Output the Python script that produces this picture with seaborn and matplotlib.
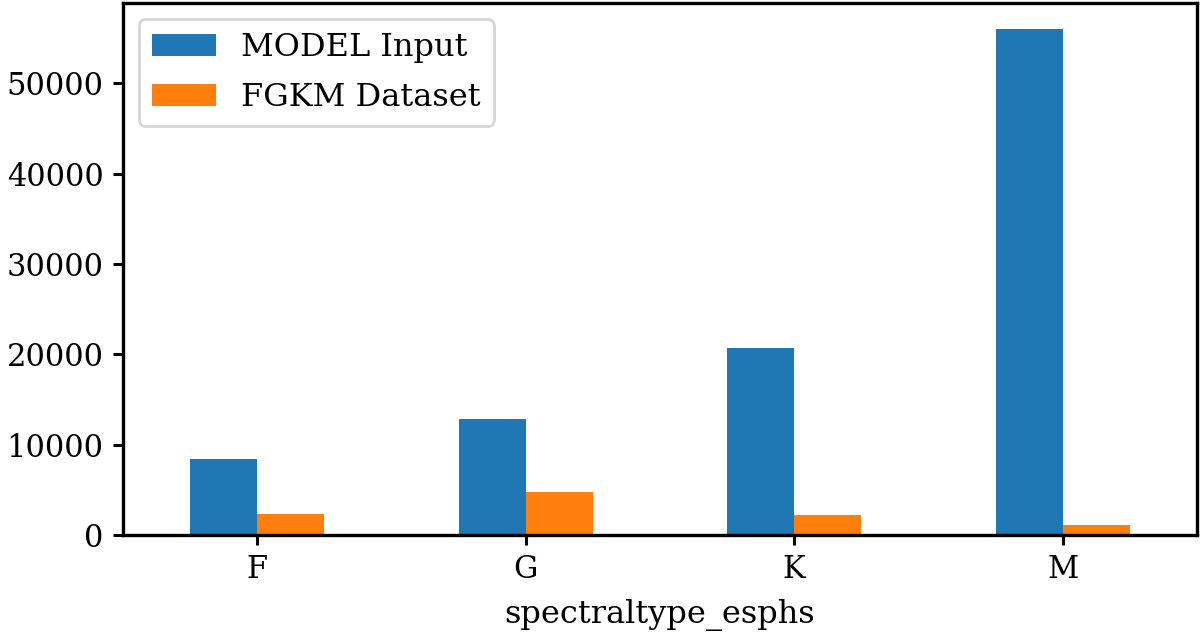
import pandas as pd
import seaborn as sns
import matplotlib.pyplot as plt

# values
spectral_types = ['F', 'G', 'K', 'M']
model_input = [8400, 12850, 20700, 56050]
fgkm_dataset = [2320, 4760, 2220, 1110]
series_names = ['MODEL Input', 'FGKM Dataset']


def main() -> None:
    df = pd.DataFrame({
        'spectraltype_esphs': spectral_types * 2,
        'count': model_input + fgkm_dataset,
        'source': [series_names[0]] * 4 + [series_names[1]] * 4,
    })

    plt.rcParams['font.family'] = ['DejaVu Serif']
    plt.rcParams['font.size'] = 11
    plt.rcParams['axes.linewidth'] = 1.2
    plt.rcParams['xtick.major.width'] = 1.1
    plt.rcParams['ytick.major.width'] = 1.1
    fig, ax = plt.subplots(figsize=(6, 3.19), dpi=200)
    sns.barplot(data=df, x='spectraltype_esphs', y='count', hue='source',
                palette=['#1f77b4', '#ff7f0e'], width=0.5, saturation=1,
                linewidth=0, ax=ax)
    ax.set_xlim(-0.5, 3.5)
    ax.set_ylabel('')
    ax.set_xlabel('spectraltype_esphs', fontsize=11.5, labelpad=5)
    ax.set_yticks(range(0, 50001, 10000))
    handles, labels = ax.get_legend_handles_labels()
    ax.legend(handles, labels, loc='upper left', fontsize=11.5,
              labelspacing=0.6)
    fig.subplots_adjust(left=0.1025, right=0.9975, top=0.995, bottom=0.1614)
    fig.savefig('out.png', dpi=200)


if __name__ == "__main__":
    main()
